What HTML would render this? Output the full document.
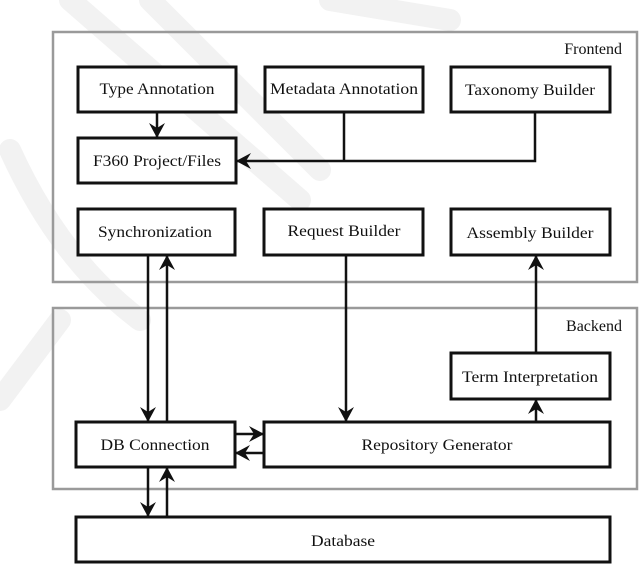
<!DOCTYPE html>
<html><head><style>
html,body{margin:0;padding:0;background:#fff;}
svg text{font-family:"Liberation Serif",serif;font-size:16px;fill:#111;}
</style></head><body>
<svg width="640" height="564" viewBox="0 0 640 564" xmlns="http://www.w3.org/2000/svg">
<defs>
<marker id="a" markerWidth="15" markerHeight="16" refX="14" refY="8" orient="auto" markerUnits="userSpaceOnUse">
<path d="M0,0 L15,8 L0,16 L5,8 Z" fill="#111"/>
</marker>
</defs>
<!-- watermark -->
<g stroke="#f2f2f2" stroke-width="22" fill="none" stroke-linecap="round">
<path d="M70,0 L300,200"/>
<path d="M150,0 L320,170"/>
<path d="M330,0 L450,20"/>
<path d="M10,150 Q60,260 140,320"/>
<path d="M60,320 L0,400"/>
</g>
<rect x="53" y="32" width="584" height="250" fill="none" stroke="#9a9a9a" stroke-width="2.5"/>
<rect x="53" y="308" width="584" height="181" fill="none" stroke="#9a9a9a" stroke-width="2.5"/>
<text x="622" y="54" text-anchor="end">Frontend</text>
<text x="622" y="331" text-anchor="end">Backend</text>
<g fill="#fff" stroke="#111" stroke-width="3">
<rect x="78" y="67" width="158" height="45"/>
<rect x="265" y="67" width="158" height="45"/>
<rect x="451" y="67" width="159" height="45"/>
<rect x="78" y="138" width="158" height="45"/>
<rect x="78" y="209" width="157" height="46"/>
<rect x="264" y="209" width="159" height="46"/>
<rect x="451" y="209" width="159" height="46"/>
<rect x="451" y="353" width="159" height="46"/>
<rect x="76" y="422" width="159" height="45"/>
<rect x="264" y="422" width="346" height="45"/>
<rect x="76" y="517" width="534" height="45"/>
</g>
<g text-anchor="middle">
<text x="157" y="94" textLength="115" lengthAdjust="spacingAndGlyphs">Type Annotation</text>
<text x="344" y="94" textLength="148" lengthAdjust="spacingAndGlyphs">Metadata Annotation</text>
<text x="530" y="95" textLength="130" lengthAdjust="spacingAndGlyphs">Taxonomy Builder</text>
<text x="157" y="166" textLength="128" lengthAdjust="spacingAndGlyphs">F360 Project/Files</text>
<text x="155" y="237" textLength="114" lengthAdjust="spacingAndGlyphs">Synchronization</text>
<text x="344" y="236" textLength="113" lengthAdjust="spacingAndGlyphs">Request Builder</text>
<text x="530" y="238" textLength="127" lengthAdjust="spacingAndGlyphs">Assembly Builder</text>
<text x="530" y="382" textLength="136" lengthAdjust="spacingAndGlyphs">Term Interpretation</text>
<text x="155" y="450" textLength="109" lengthAdjust="spacingAndGlyphs">DB Connection</text>
<text x="437" y="450" textLength="151" lengthAdjust="spacingAndGlyphs">Repository Generator</text>
<text x="343" y="546" textLength="64" lengthAdjust="spacingAndGlyphs">Database</text>
</g>
<g stroke="#111" stroke-width="2.5" fill="none">
<line x1="157" y1="112" x2="157" y2="137" marker-end="url(#a)"/>
<polyline points="344,112 344,161"/>
<polyline points="535,112 535,161 237,161" marker-end="url(#a)"/>
<line x1="148" y1="255" x2="148" y2="421" marker-end="url(#a)"/>
<line x1="167" y1="422" x2="167" y2="256" marker-end="url(#a)"/>
<line x1="346" y1="255" x2="346" y2="421" marker-end="url(#a)"/>
<line x1="536" y1="353" x2="536" y2="256" marker-end="url(#a)"/>
<line x1="536" y1="422" x2="536" y2="400" marker-end="url(#a)"/>
<line x1="235" y1="434" x2="263" y2="434" marker-end="url(#a)"/>
<line x1="264" y1="453" x2="236" y2="453" marker-end="url(#a)"/>
<line x1="148" y1="467" x2="148" y2="516" marker-end="url(#a)"/>
<line x1="167" y1="517" x2="167" y2="468" marker-end="url(#a)"/>
</g>
</svg>
</body></html>
